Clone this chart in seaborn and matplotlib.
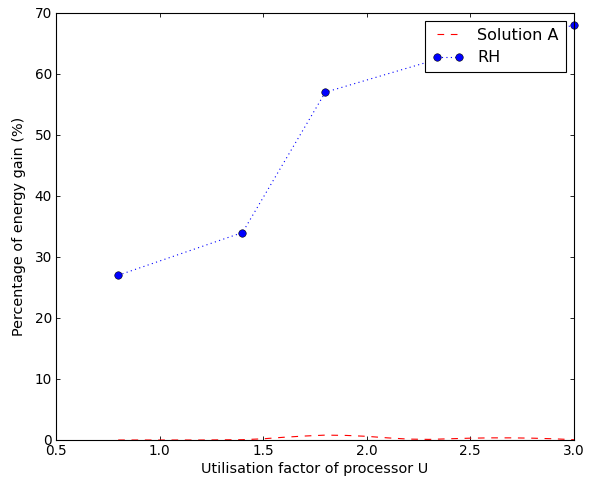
import matplotlib
matplotlib.use("Agg")
import matplotlib.pyplot as plt
import seaborn as sns
import pandas as pd

sol_x = [0.8, 1.0, 1.2, 1.4, 1.5, 1.6, 1.7, 1.8, 1.9, 2.0, 2.1, 2.2, 2.3, 2.4, 2.5, 2.6, 2.7, 2.8, 2.9, 3.0]
sol_y = [0.0, 0.0, 0.0, 0.05, 0.2, 0.45, 0.65, 0.8, 0.75, 0.6, 0.35, 0.15, 0.1, 0.2, 0.3, 0.35, 0.35, 0.3, 0.2, 0.05]
rh_x = [0.8, 1.4, 1.8, 2.5, 3.0]
rh_y = [27, 34, 57, 64, 68]

sns.set_style("white")
plt.rcParams['font.family'] = ['DejaVu Sans']
plt.rcParams['text.color'] = 'black'
plt.rcParams['axes.labelcolor'] = 'black'
plt.rcParams['xtick.direction'] = 'in'
plt.rcParams['ytick.direction'] = 'in'

fig = plt.figure(figsize=(5.96, 4.78), dpi=100)
ax = fig.add_axes([0.094, 0.0795, 0.869, 0.8935])

df_a = pd.DataFrame({"x": sol_x, "y": sol_y})
df_r = pd.DataFrame({"x": rh_x, "y": rh_y})
sns.lineplot(data=df_a, x="x", y="y", ax=ax, color="red", linestyle=(0, (6, 6)),
             linewidth=0.8, label="Solution A")
sns.lineplot(data=df_r, x="x", y="y", ax=ax, color="blue", linestyle=(0, (1, 3)),
             linewidth=0.8, marker="o", markersize=5.4, markeredgecolor="black",
             markeredgewidth=0.4, label="RH", clip_on=False)

ax.set_xlim(0.5, 3.0)
ax.set_ylim(0, 70)
ax.set_xticks([0.5, 1.0, 1.5, 2.0, 2.5, 3.0])
ax.set_xticklabels(["0.5", "1.0", "1.5", "2.0", "2.5", "3.0"])
ax.set_yticks(range(0, 71, 10))
ax.tick_params(axis='both', which='both', direction='in', length=3.2, width=0.6,
               top=True, right=True, bottom=True, left=True, labelsize=9.8, pad=3,
               colors='black', labelcolor='black')
for s in ax.spines.values():
    s.set_color('black')
    s.set_linewidth(0.8)
ax.set_xlabel("Utilisation factor of processor U", fontsize=10.4, labelpad=3, color='black')
ax.set_ylabel("Percentage of energy gain (%)", fontsize=10.4, labelpad=6, color='black')

leg = ax.legend(loc="upper right", fontsize=11.5, frameon=True, fancybox=False,
                borderaxespad=0.5, handlelength=2.0, handletextpad=0.85,
                borderpad=0.45, labelspacing=0.45, numpoints=2)
leg.get_frame().set_edgecolor('black')
leg.get_frame().set_linewidth(0.8)
leg.get_frame().set_alpha(1.0)
for t in leg.get_texts():
    t.set_color('black')

fig.savefig("out.png", dpi=100)
